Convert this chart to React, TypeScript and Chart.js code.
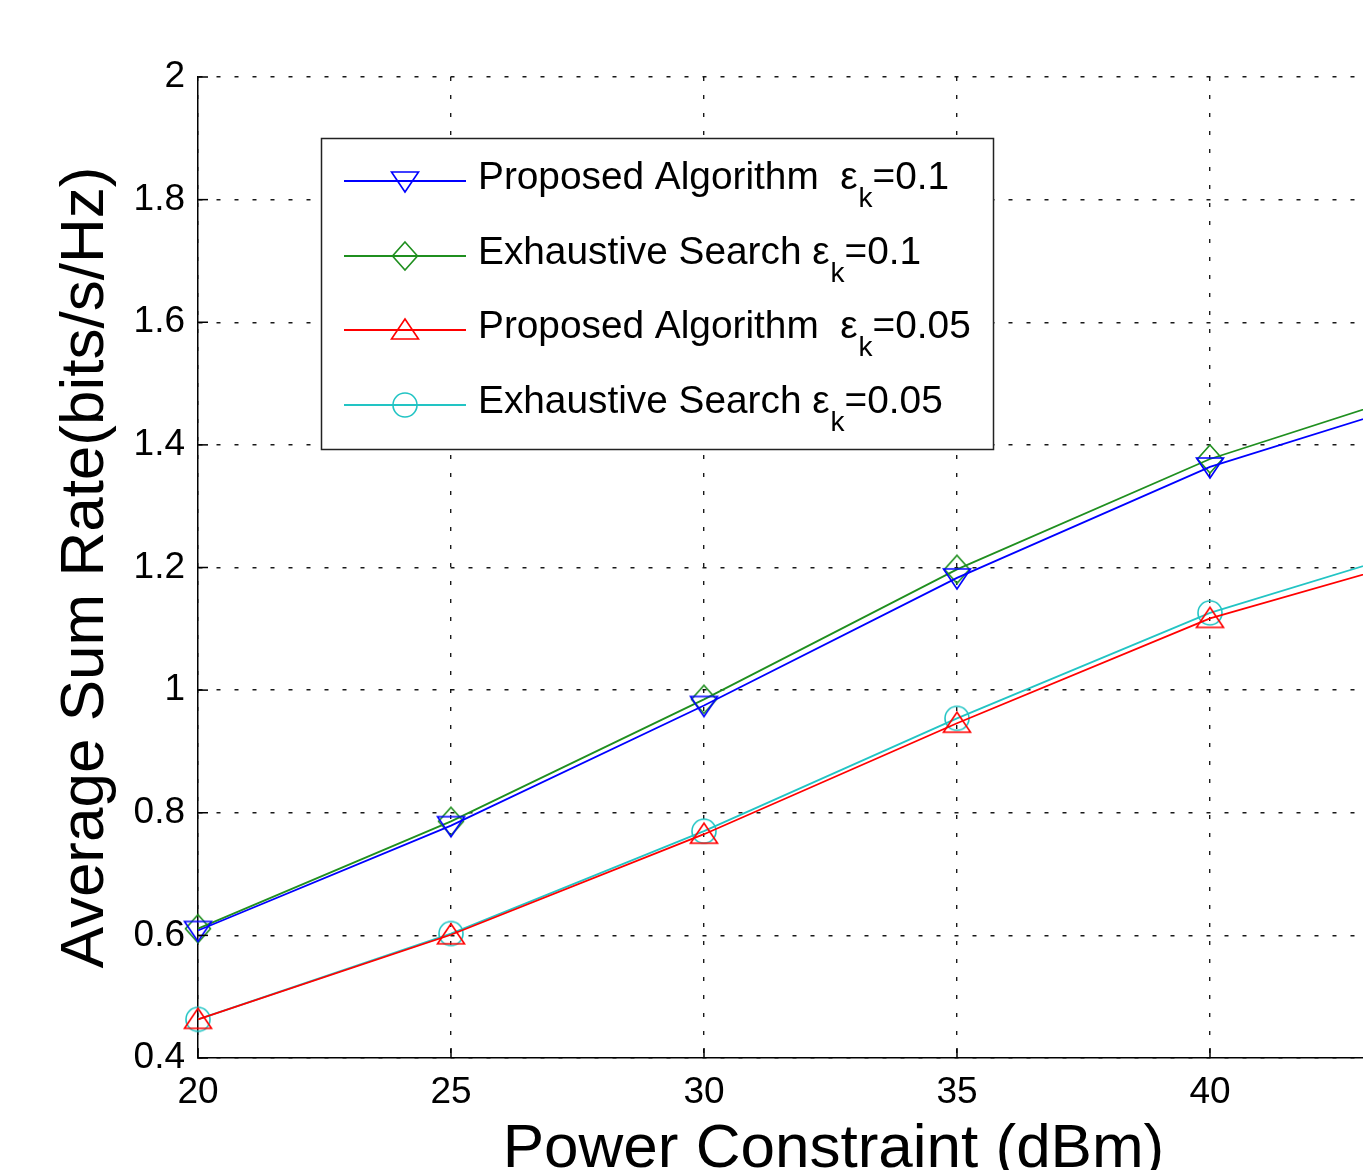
import React, { useEffect, useRef } from "react";
import { Chart, registerables } from "chart.js";

Chart.register(...registerables);

const powerDbm = [20, 25, 30, 35, 40, 45];
const proposed01 = [0.608, 0.779, 0.975, 1.183, 1.364, 1.493];
const exhaustive01 = [0.611, 0.786, 0.985, 1.197, 1.377, 1.51];
const proposed005 = [0.463, 0.601, 0.765, 0.946, 1.117, 1.235];
const exhaustive005 = [0.463, 0.603, 0.770, 0.954, 1.126, 1.252];

const xTicks = [20, 25, 30, 35, 40, 45];
const yTicks = [0.4, 0.6, 0.8, 1, 1.2, 1.4, 1.6, 1.8, 2];

const seriesNames = [
  ["Proposed Algorithm  ε", "k", "=0.1"],
  ["Exhaustive Search ε", "k", "=0.1"],
  ["Proposed Algorithm  ε", "k", "=0.05"],
  ["Exhaustive Search ε", "k", "=0.05"],
];
const seriesColors = ["#0000ff", "#1f8f1f", "#ff0000", "#22c4c4"];
const seriesMarkers = ["down", "diamond", "up", "circle"];

const FONT = "'Liberation Sans', Arial, Helvetica, sans-serif";
const X_MIN = 20;
const X_MAX = 43.024;

function makeMarker(kind: string, color: string): HTMLCanvasElement {
  const c = document.createElement("canvas");
  c.width = 40;
  c.height = 40;
  const g = c.getContext("2d")!;
  g.translate(20, 20);
  g.strokeStyle = color;
  g.lineWidth = 1.6;
  g.beginPath();
  if (kind === "down") {
    g.moveTo(-13.5, -9);
    g.lineTo(13.5, -9);
    g.lineTo(0, 11);
    g.closePath();
  } else if (kind === "up") {
    g.moveTo(-13.5, 9);
    g.lineTo(13.5, 9);
    g.lineTo(0, -11);
    g.closePath();
  } else if (kind === "diamond") {
    g.moveTo(0, -14);
    g.lineTo(12.5, 0);
    g.lineTo(0, 14);
    g.lineTo(-12.5, 0);
    g.closePath();
  } else {
    g.arc(0, 0, 12, 0, Math.PI * 2);
  }
  g.stroke();
  return c;
}

export default function App() {
  const ref = useRef<HTMLCanvasElement | null>(null);

  useEffect(() => {
    if (!ref.current) return;
    const markers = seriesMarkers.map((m, i) => makeMarker(m, seriesColors[i]));
    const seriesValues = [proposed01, exhaustive01, proposed005, exhaustive005];

    const overlay = {
      id: "matlabOverlay",
      afterDraw(chart: any) {
        const ctx = chart.ctx as CanvasRenderingContext2D;
        const area = chart.chartArea;
        const xs = chart.scales.x;
        const ys = chart.scales.y;
        ctx.save();
        // inward ticks
        ctx.strokeStyle = "#000";
        ctx.lineWidth = 1.5;
        ctx.setLineDash([]);
        xTicks.forEach((v) => {
          const px = xs.getPixelForValue(v);
          if (px > area.right) return;
          ctx.beginPath();
          ctx.moveTo(px, area.bottom);
          ctx.lineTo(px, area.bottom - 10);
          ctx.stroke();
        });
        yTicks.forEach((v) => {
          const py = ys.getPixelForValue(v);
          ctx.beginPath();
          ctx.moveTo(area.left, py);
          ctx.lineTo(area.left + 10, py);
          ctx.stroke();
        });

        // legend
        const bx = 321, by = 138, bw = 672, bh = 311;
        ctx.fillStyle = "#fff";
        ctx.fillRect(bx, by, bw, bh);
        ctx.strokeStyle = "#222";
        ctx.lineWidth = 1.5;
        ctx.strokeRect(bx + 0.5, by + 0.5, bw, bh);
        const rowY = [181, 256, 330, 405];
        seriesNames.forEach((parts, i) => {
          const y = rowY[i];
          ctx.strokeStyle = seriesColors[i];
          ctx.lineWidth = 1.8;
          ctx.beginPath();
          ctx.moveTo(344, y);
          ctx.lineTo(466, y);
          ctx.stroke();
          const mk = markers[i];
          ctx.drawImage(mk, 405 - mk.width / 2, y - mk.height / 2);
          ctx.fillStyle = "#000";
          ctx.textAlign = "left";
          ctx.textBaseline = "alphabetic";
          let x = 478;
          const base = y + 8;
          ctx.font = `38.8px ${FONT}`;
          ctx.fillText(parts[0], x, base);
          x += ctx.measureText(parts[0]).width;
          ctx.font = `28px ${FONT}`;
          ctx.fillText(parts[1], x + 1, base + 18);
          x += ctx.measureText(parts[1]).width + 1;
          ctx.font = `38.8px ${FONT}`;
          ctx.fillText(parts[2], x, base);
        });

        // axis titles
        ctx.fillStyle = "#000";
        ctx.font = `62px ${FONT}`;
        ctx.textAlign = "center";
        ctx.textBaseline = "alphabetic";
        const cx = (xs.getPixelForValue(20) + xs.getPixelForValue(45)) / 2 + 3;
        ctx.fillText("Power Constraint (dBm)", cx, 1167);
        ctx.translate(103, (area.top + area.bottom) / 2);
        ctx.rotate(-Math.PI / 2);
        ctx.fillText("Average Sum Rate(bits/s/Hz)", 0, 0);
        ctx.restore();
      },
    };

    const chart = new Chart(ref.current, {
      type: "line",
      data: {
        datasets: seriesValues.map((vals, i) => ({
          label: seriesNames[i].join(""),
          data: powerDbm.map((x, j) => ({ x, y: vals[j] })),
          borderColor: seriesColors[i],
          backgroundColor: seriesColors[i],
          borderWidth: 1.8,
          pointStyle: markers[i] as any,
          pointRadius: 12,
          pointHoverRadius: 12,
          fill: false,
          tension: 0,
          clip: false as any,
        })),
      },
      options: {
        animation: false,
        responsive: false,
        devicePixelRatio: 1,
        events: [],
        layout: { autoPadding: false, padding: { top: 77, left: 0, right: 0, bottom: 0 } },
        plugins: {
          legend: { display: false },
          tooltip: { enabled: false },
          title: { display: false },
        },
        scales: {
          x: {
            type: "linear",
            min: X_MIN,
            max: X_MAX,
            afterBuildTicks: (s: any) => {
              s.ticks = xTicks.filter((v) => v <= X_MAX).map((v) => ({ value: v }));
            },
            afterFit: (s: any) => {
              s.height = 112;
              s.paddingLeft = 0;
              s.paddingRight = 0;
            },
            ticks: {
              font: { family: FONT, size: 37 },
              color: "#000",
              padding: 13,
              maxRotation: 0,
              autoSkip: false,
            },
            grid: { color: "rgba(0,0,0,0.9)", lineWidth: 1.4, drawTicks: false },
            border: { display: true, color: "#000", width: 1.5, dash: [4, 14] },
          },
          y: {
            type: "linear",
            min: 0.4,
            max: 2,
            afterBuildTicks: (s: any) => {
              s.ticks = yTicks.map((v) => ({ value: v }));
            },
            afterFit: (s: any) => {
              s.width = 198;
              s.paddingTop = 0;
              s.paddingBottom = 0;
            },
            ticks: {
              font: { family: FONT, size: 37 },
              color: "#000",
              padding: 13,
              autoSkip: false,
              callback: (v: any) => String(Math.round(Number(v) * 10) / 10),
            },
            grid: { color: "rgba(0,0,0,0.9)", lineWidth: 1.4, drawTicks: false },
            border: { display: true, color: "#000", width: 1.5, dash: [4, 14] },
          },
        },
      },
      plugins: [overlay],
    });
    return () => chart.destroy();
  }, []);

  return (
    <div style={{ position: "fixed", left: 0, top: 0, width: 1363, height: 1170, background: "#fff" }}>
      <canvas ref={ref} width={1363} height={1170} style={{ display: "block" }} />
    </div>
  );
}
